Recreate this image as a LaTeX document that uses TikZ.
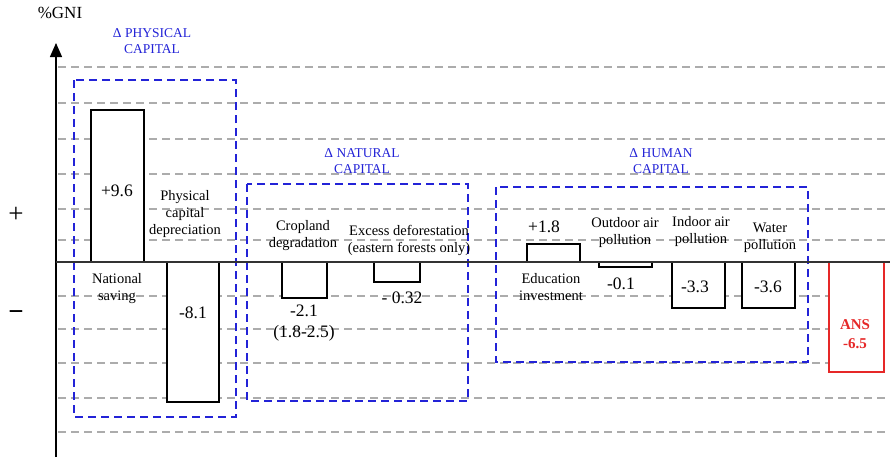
\documentclass[tikz,border=0pt]{standalone}
\usepackage{fontspec}
\setmainfont{Liberation Serif}
\usetikzlibrary{arrows.meta}
\definecolor{capblue}{RGB}{35,35,215}
\definecolor{ansred}{RGB}{230,40,40}
\tikzset{
 gridline/.style = {draw=gray!65, line width=1.2pt, dash pattern=on 8pt off 5pt},
 capbox/.style = {draw=capblue, line width=1.8pt, dash pattern=on 8pt off 5pt},
 captitle/.style = {text=capblue, font=\fontsize{13.5}{16.5}\selectfont, align=center},
 barlabel/.style = {font=\fontsize{14.5}{17}\selectfont, align=center},
 barvalue/.style = {font=\fontsize{17.5}{21}\selectfont, align=center},
}
\pgfkeys{
 /gniBar/.is family, /gniBar,
 l/.estore in = \gbL,
 r/.estore in = \gbR,
 v/.estore in = \gbV,
 col/.estore in = \gbCol,
 name/.estore in = \gbName,
 default/.style =
  {l=0, r=50, v=262, col=black, name=bar}
}
\newcommand{\gniBar}[1][]{
    \pgfkeys{/gniBar, default, #1}%
    \coordinate (\gbName_a) at (\gbL, 262);
    \coordinate (\gbName_b) at (\gbR, \gbV);
    \draw[draw=\gbCol, fill=white, line width=1.2pt] (\gbName_a) rectangle (\gbName_b);
}

\begin{document}
\begin{tikzpicture}[x=1pt, y=-1pt]
    \useasboundingbox (0, 0) rectangle (890, 459);

    \foreach \y in {67, 103, 139, 174, 209, 240, 296, 329, 363, 398, 432}
        \draw[gridline] (58, \y) -- (890, \y);

    \gniBar[name=saving, l=91, r=144, v=110]
    \gniBar[name=depr, l=167, r=219, v=402]
    \gniBar[name=crop, l=282, r=327, v=298]
    \gniBar[name=forest, l=374, r=420, v=282]
    \gniBar[name=educ, l=527, r=580, v=244]
    \gniBar[name=outdoor, l=599, r=652, v=267]
    \gniBar[name=indoor, l=672, r=725, v=308]
    \gniBar[name=water, l=742, r=795, v=308]
    \gniBar[name=ans, l=829, r=884, v=372, col=ansred]

    \draw[capbox] (74, 80) rectangle (236, 417);
    \draw[capbox] (247, 184) rectangle (468, 401);
    \draw[capbox] (496, 187) rectangle (808, 362);

    \coordinate (axisfoot) at (56, 457);
    \coordinate (axistip) at (56, 43);
    \coordinate (zero) at (56, 262);
    \coordinate (zeroend) at (890, 262);
    \draw[line width=1.3pt, -{Triangle[length=14pt, width=12pt]}] (axisfoot) -- (axistip);
    \draw[line width=1.3pt, draw=black!80] (zero) -- (zeroend);

    \node (gni) at (60, 13) {\fontsize{17}{18}\selectfont\%GNI};
    \node (plus) at (16, 215) {\fontsize{27}{27}\selectfont +};
    \node (minus) at (16, 316) {\fontsize{27}{27}\selectfont\bfseries −};

    \node[captitle] (physT) at (152, 41) {Δ PHYSICAL\\CAPITAL};
    \node[captitle] (natT) at (362, 161) {Δ NATURAL\\CAPITAL};
    \node[captitle] (humT) at (661, 161) {Δ HUMAN\\CAPITAL};

    \node[barvalue] (savingV) at (117, 191) {+9.6};
    \node[barlabel] (savingL) at (117, 289) {National\\saving};
    \node[barlabel] (deprL) at (185, 214) {Physical\\capital\\depreciation};
    \node[barvalue] (deprV) at (193, 313) {-8.1};
    \node[barlabel] (cropL) at (303, 236) {Cropland\\degradation};
    \node[barvalue] (cropV) at (304, 323) {-2.1\\(1.8-2.5)};
    \node[barlabel] (forestL) at (409, 240) {Excess deforestation\\(eastern forests only)};
    \node[barvalue] (forestV) at (402, 298) {- 0.32};
    \node[barvalue] (educV) at (544, 227) {+1.8};
    \node[barlabel] (educL) at (551, 287) {Education\\investment};
    \node[barlabel] (outdoorL) at (625, 233) {Outdoor air\\pollution};
    \node[barvalue] (outdoorV) at (621, 284) {-0.1};
    \node[barlabel] (indoorL) at (701, 232) {Indoor air\\pollution};
    \node[barvalue] (indoorV) at (695, 287) {-3.3};
    \node[barlabel] (waterL) at (770, 238) {Water\\pollution};
    \node[barvalue] (waterV) at (768, 287) {-3.6};
    \node[text=ansred, align=center, font=\fontsize{15}{19}\selectfont\bfseries] (ansV) at (855, 334) {ANS\\-6.5};
\end{tikzpicture}
\end{document}
